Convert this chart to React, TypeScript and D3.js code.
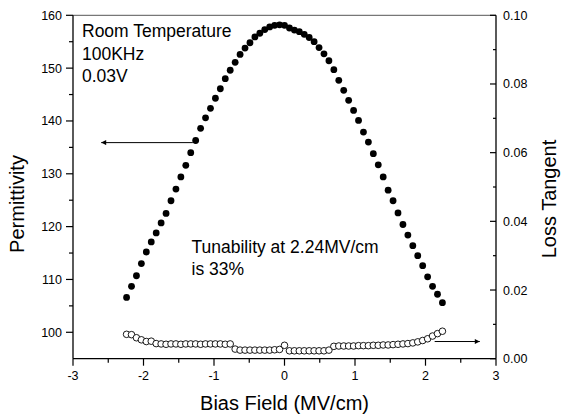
import React from 'react';
import * as d3 from 'd3';

const biasField = [-2.24,-2.17,-2.10,-2.03,-1.96,-1.89,-1.82,-1.75,-1.68,-1.61,-1.54,-1.47,-1.40,-1.33,-1.26,-1.19,-1.12,-1.05,-0.98,-0.91,-0.84,-0.77,-0.70,-0.63,-0.56,-0.49,-0.42,-0.35,-0.28,-0.21,-0.14,-0.07,0.00,0.07,0.14,0.21,0.28,0.35,0.42,0.49,0.56,0.63,0.70,0.77,0.84,0.91,0.98,1.05,1.12,1.19,1.26,1.33,1.40,1.47,1.54,1.61,1.68,1.75,1.82,1.89,1.96,2.03,2.10,2.17,2.24];

const permittivity = [106.6,108.7,110.7,113.0,115.2,117.1,118.8,120.7,122.5,124.9,127.1,129.4,131.6,134.0,136.3,138.6,140.6,142.4,144.3,146.1,148.0,149.6,151.1,152.6,153.8,154.8,155.9,156.6,157.3,157.8,158.1,158.2,158.1,157.6,157.2,156.9,156.4,155.8,155.0,153.9,152.7,151.4,149.7,147.7,145.8,143.9,142.0,140.1,137.9,136.0,133.8,131.7,129.4,126.9,124.9,122.6,120.4,118.4,116.4,114.5,112.6,110.5,108.7,107.2,105.6];

const lossTangent = [0.0071,0.0070,0.0061,0.0055,0.0050,0.0051,0.0044,
0.0043,0.0042,0.0043,0.0043,0.0042,0.0043,0.0043,0.0043,0.0042,0.0043,0.0043,0.0043,0.0043,0.0042,0.0043,
0.0028,
0.0025,0.0025,0.0025,0.0025,0.0025,0.0025,0.0025,0.0026,
0.0027,
0.0039,
0.0023,0.0023,0.0023,0.0023,0.0023,0.0023,0.0023,0.0023,0.0025,
0.0036,0.0037,0.0037,0.0037,0.0037,0.0038,0.0038,0.0038,0.0039,0.0039,0.0040,0.0040,0.0041,0.0042,0.0043,0.0044,0.0046,0.0049,0.0053,0.0058,0.0066,0.0073,0.0080];

const xMajor = [-3,-2,-1,0,1,2,3];
const xMinor = [-2.5,-1.5,-0.5,0.5,1.5,2.5];
const yLMajor = [100,110,120,130,140,150,160];
const yLMinor = [105,115,125,135,145,155];
const yRMajor = [0,0.02,0.04,0.06,0.08,0.10];
const yRMinor = [0.01,0.03,0.05,0.07,0.09];

const annotLines = ['Room Temperature','100KHz','0.03V'];
const tunLines = ['Tunability at 2.24MV/cm','is 33%'];

const FONT = '"Liberation Sans", Arial, Helvetica, sans-serif';

export default function App() {
  const W = 565, H = 417;
  const left = 73, right = 496, top = 15.3, bottom = 358.7;
  const x = d3.scaleLinear().domain([-3, 3]).range([left, right]);
  const yL = d3.scaleLinear().domain([95, 160]).range([bottom, top]);
  const yR = d3.scaleLinear().domain([0, 0.10]).range([bottom, top]);
  const fmtR = d3.format('.2f');

  return (
    <svg width={W} height={H} style={{ position: 'absolute', left: 0, top: 0, background: '#fff' }} fontFamily={FONT}>
      <defs>
        <marker id="ah" viewBox="0 0 10 10" refX="10" refY="5" markerWidth="7" markerHeight="5" markerUnits="userSpaceOnUse" orient="auto">
          <path d="M0,0 L10,5 L0,10 z" fill="#000" />
        </marker>
      </defs>
      <rect x={0} y={0} width={W} height={H} fill="#fff" />
      {/* frame */}
      <line x1={left} x2={right} y1={top} y2={top} stroke="#777" strokeWidth={1.3} />
      <line x1={left} x2={left} y1={top} y2={bottom} stroke="#000" strokeWidth={1.3} />
      <line x1={right} x2={right} y1={top} y2={bottom} stroke="#000" strokeWidth={1.3} />
      <line x1={left} x2={right} y1={bottom} y2={bottom} stroke="#000" strokeWidth={1.3} />

      {/* bottom axis */}
      {xMajor.map(v => (
        <g key={'xm' + v}>
          <line x1={x(v)} x2={x(v)} y1={bottom} y2={bottom + 7} stroke="#000" strokeWidth={1.2} />
          <text x={x(v)} y={380} fontSize={12.5} textAnchor="middle">{v}</text>
        </g>
      ))}
      {xMinor.map(v => (
        <line key={'xn' + v} x1={x(v)} x2={x(v)} y1={bottom} y2={bottom + 4} stroke="#000" strokeWidth={1.2} />
      ))}

      {/* left axis */}
      {yLMajor.map(v => (
        <g key={'ylm' + v}>
          <line x1={left - 7} x2={left} y1={yL(v)} y2={yL(v)} stroke="#000" strokeWidth={1.2} />
          <text x={62} y={yL(v)} dy="0.36em" fontSize={12.5} textAnchor="end">{v}</text>
        </g>
      ))}
      {yLMinor.map(v => (
        <line key={'yln' + v} x1={left - 4} x2={left} y1={yL(v)} y2={yL(v)} stroke="#000" strokeWidth={1.2} />
      ))}

      {/* right axis */}
      {yRMajor.map(v => (
        <g key={'yrm' + v}>
          <line x1={right - 6} x2={right} y1={yR(v)} y2={yR(v)} stroke="#000" strokeWidth={1.2} />
          <text x={503} y={yR(v)} dy="0.36em" fontSize={12.5} textAnchor="start">{fmtR(v)}</text>
        </g>
      ))}
      {yRMinor.map(v => (
        <line key={'yrn' + v} x1={right - 3} x2={right} y1={yR(v)} y2={yR(v)} stroke="#000" strokeWidth={1.2} />
      ))}

      {/* titles */}
      <text x={284.5} y={410} fontSize={20} textAnchor="middle">Bias Field (MV/cm)</text>
      <text transform={`translate(24,${(top + bottom) / 2 + 17}) rotate(-90)`} fontSize={20} textAnchor="middle">Permittivity</text>
      <text transform={`translate(556,${(top + bottom) / 2 + 12}) rotate(-90)`} fontSize={20} textAnchor="middle">Loss Tangent</text>

      {/* annotations */}
      {annotLines.map((t, i) => (
        <text key={t} x={82} y={37.3 + i * 22.5} fontSize={17.5}>{t}</text>
      ))}
      {tunLines.map((t, i) => (
        <text key={t} x={191.5} y={253.3 + i * 21.7} fontSize={17.5}>{t}</text>
      ))}

      {/* arrows */}
      <line x1={x(-1.3)} x2={x(-2.6)} y1={yL(135.9)} y2={yL(135.9)} stroke="#000" strokeWidth={1} markerEnd="url(#ah)" />
      <line x1={x(2.13)} x2={x(2.77)} y1={yR(0.005)} y2={yR(0.005)} stroke="#000" strokeWidth={1} markerEnd="url(#ah)" />

      {/* loss tangent (open circles) */}
      {biasField.map((b, i) => (
        <circle key={'lt' + i} cx={x(b)} cy={yR(lossTangent[i])} r={3.3} fill="#fff" stroke="#000" strokeWidth={0.9} />
      ))}
      {/* permittivity (filled circles) */}
      {biasField.map((b, i) => (
        <circle key={'p' + i} cx={x(b)} cy={yL(permittivity[i])} r={3.4} fill="#000" />
      ))}
    </svg>
  );
}
